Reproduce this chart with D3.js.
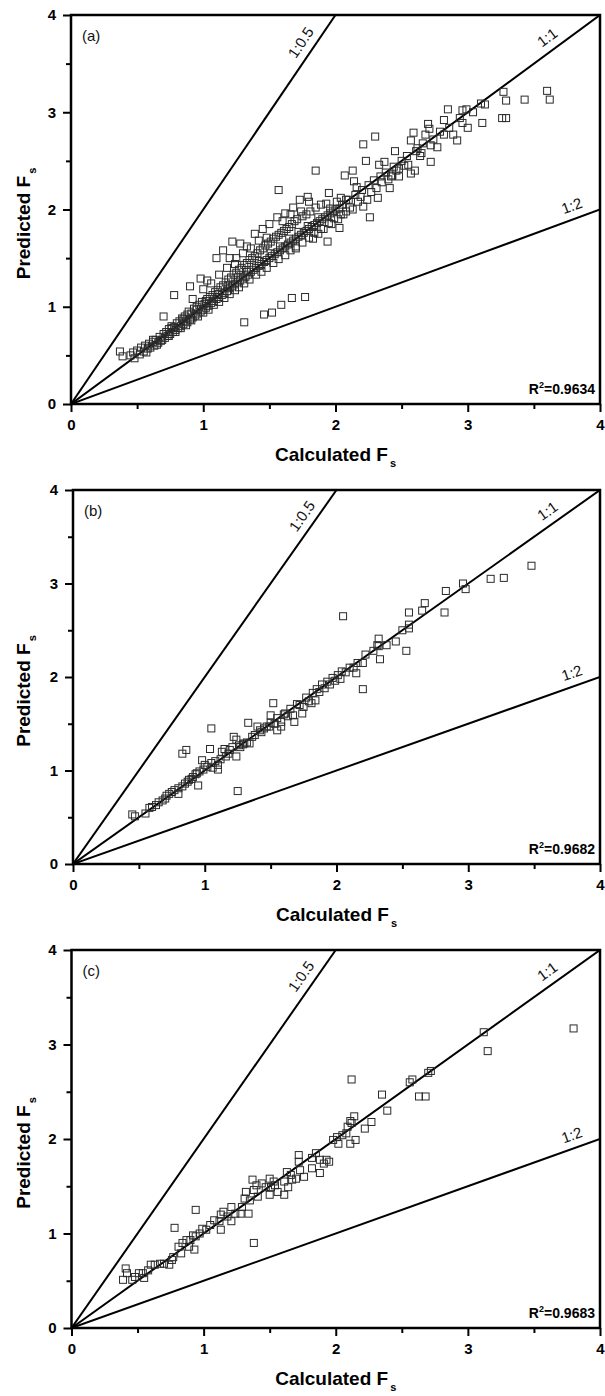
<!DOCTYPE html>
<html>
<head>
<meta charset="utf-8">
<script src="https://cdn.jsdelivr.net/npm/d3@7"></script>
<style>
  body { margin: 0; background: #fff; }
  svg { display: block; font-family: Arial, "Liberation Sans", sans-serif; }
</style>
</head>
<body>
<svg id="chart" width="605" height="1396"></svg>
<script>
// [calculated, predicted] pairs
const pointsA = [
  [0.37,0.54],[0.39,0.49],[0.45,0.50],[0.47,0.53],[0.48,0.47],[0.50,0.55],[0.52,0.51],[0.53,0.58],[0.55,0.54],[0.56,0.60],
  [0.57,0.53],[0.58,0.57],[0.59,0.62],[0.60,0.58],[0.62,0.64],[0.62,0.66],[0.63,0.60],[0.64,0.66],[0.65,0.61],[0.66,0.63],
  [0.67,0.69],[0.68,0.65],[0.69,0.66],[0.70,0.72],[0.70,0.90],[0.71,0.68],[0.72,0.74],[0.73,0.70],[0.74,0.77],[0.74,0.70],
  [0.75,0.72],[0.76,0.80],[0.76,0.78],[0.77,0.74],[0.78,1.12],[0.78,0.79],[0.79,0.76],[0.79,0.74],[0.80,0.83],[0.81,0.78],
  [0.82,0.85],[0.83,0.80],[0.83,0.78],[0.84,0.88],[0.85,0.82],[0.85,0.87],[0.86,0.90],[0.87,0.85],[0.87,0.81],[0.88,0.92],
  [0.88,0.84],[0.89,0.95],[0.90,1.21],[0.90,0.87],[0.91,0.93],[0.91,0.86],[0.92,0.89],[0.92,1.08],[0.93,0.98],[0.94,0.91],
  [0.95,1.00],[0.95,0.97],[0.96,0.93],[0.96,0.90],[0.97,1.02],[0.98,1.29],[0.98,0.95],[0.99,1.05],[1.00,0.97],[1.00,0.94],
  [1.00,1.18],[1.01,1.03],[1.02,0.99],[1.02,1.06],[1.03,1.27],[1.03,1.08],[1.04,1.01],[1.04,0.97],[1.05,1.10],[1.06,1.04],
  [1.06,1.24],[1.07,1.12],[1.08,1.06],[1.08,1.02],[1.09,1.15],[1.10,1.50],[1.10,1.08],[1.11,1.17],[1.11,1.13],[1.12,1.10],
  [1.12,1.05],[1.12,1.33],[1.13,1.20],[1.14,1.12],[1.15,1.58],[1.15,1.22],[1.16,1.14],[1.16,1.09],[1.17,1.25],[1.18,1.16],
  [1.18,1.40],[1.19,1.28],[1.19,1.22],[1.20,1.50],[1.20,1.19],[1.20,1.13],[1.21,1.30],[1.22,1.67],[1.22,1.21],[1.23,1.33],
  [1.24,1.23],[1.24,1.17],[1.24,1.44],[1.25,1.50],[1.25,1.35],[1.26,1.25],[1.26,1.30],[1.27,1.38],[1.27,1.20],[1.28,1.65],
  [1.28,1.27],[1.29,1.40],[1.30,1.29],[1.30,1.55],[1.31,0.84],[1.31,1.43],[1.31,1.24],[1.32,1.31],[1.33,1.45],[1.33,1.36],
  [1.33,1.62],[1.34,1.33],[1.35,1.48],[1.35,1.28],[1.36,1.36],[1.36,1.60],[1.37,1.50],[1.38,1.38],[1.39,1.75],[1.39,1.52],
  [1.40,1.40],[1.40,1.33],[1.41,1.55],[1.42,1.42],[1.42,1.47],[1.42,1.68],[1.43,1.58],[1.44,1.44],[1.44,1.36],[1.45,1.60],
  [1.45,1.80],[1.46,0.92],[1.46,1.46],[1.47,1.63],[1.48,1.71],[1.48,1.48],[1.48,1.40],[1.49,1.65],[1.50,1.50],[1.50,1.85],
  [1.51,1.67],[1.51,1.55],[1.52,0.94],[1.52,1.52],[1.53,1.70],[1.53,1.45],[1.54,1.54],[1.55,1.72],[1.56,1.56],[1.56,1.92],
  [1.57,1.74],[1.57,1.49],[1.57,2.20],[1.58,1.58],[1.58,1.62],[1.59,1.02],[1.59,1.76],[1.60,1.60],[1.60,1.88],[1.61,1.78],
  [1.62,1.62],[1.62,1.53],[1.62,1.96],[1.63,1.80],[1.64,1.64],[1.65,1.82],[1.65,1.70],[1.66,1.66],[1.66,1.58],[1.66,1.95],
  [1.67,1.09],[1.67,1.85],[1.68,1.68],[1.68,2.02],[1.69,1.88],[1.70,1.70],[1.70,1.62],[1.70,1.60],[1.71,1.90],[1.72,1.72],
  [1.72,1.77],[1.73,2.10],[1.74,1.74],[1.74,1.98],[1.75,1.93],[1.75,1.66],[1.76,1.76],[1.77,1.10],[1.78,1.95],[1.78,1.78],
  [1.79,2.13],[1.79,1.83],[1.80,1.80],[1.80,1.71],[1.80,2.08],[1.81,1.98],[1.82,1.82],[1.83,1.70],[1.84,1.84],[1.84,1.76],
  [1.85,2.40],[1.85,2.02],[1.86,1.86],[1.87,1.75],[1.87,1.92],[1.88,1.88],[1.89,2.05],[1.89,1.80],[1.90,1.90],[1.91,1.80],
  [1.92,1.92],[1.93,2.06],[1.94,1.67],[1.94,1.94],[1.95,2.17],[1.95,1.86],[1.96,1.96],[1.96,2.01],[1.97,1.85],[1.98,1.98],
  [1.99,1.91],[2.00,2.00],[2.01,2.08],[2.02,1.90],[2.03,1.81],[2.03,2.01],[2.04,2.12],[2.04,1.95],[2.05,2.05],[2.06,1.95],
  [2.07,2.35],[2.08,1.98],[2.08,2.10],[2.10,2.10],[2.11,2.02],[2.13,2.00],[2.13,2.40],[2.14,2.29],[2.15,2.15],[2.16,2.23],
  [2.17,2.08],[2.19,2.13],[2.20,2.20],[2.21,2.03],[2.21,2.67],[2.23,2.50],[2.24,2.10],[2.25,2.25],[2.26,1.92],[2.27,2.18],
  [2.29,2.30],[2.30,2.75],[2.31,2.22],[2.32,2.12],[2.33,2.46],[2.34,2.34],[2.35,2.28],[2.37,2.49],[2.38,2.38],[2.40,2.31],
  [2.41,2.22],[2.42,2.34],[2.43,2.35],[2.44,2.44],[2.45,2.60],[2.46,2.40],[2.48,2.42],[2.48,2.34],[2.50,2.50],[2.52,2.45],
  [2.54,2.55],[2.55,2.46],[2.57,2.37],[2.57,2.71],[2.59,2.79],[2.60,2.40],[2.61,2.60],[2.62,2.63],[2.64,2.55],[2.65,2.58],
  [2.66,2.68],[2.68,2.77],[2.70,2.88],[2.71,2.83],[2.72,2.66],[2.72,2.49],[2.74,2.72],[2.77,2.64],[2.79,2.80],[2.82,2.92],
  [2.82,2.77],[2.85,3.03],[2.86,2.84],[2.89,2.77],[2.92,2.71],[2.94,2.94],[2.96,3.02],[2.96,2.89],[2.99,3.03],[3.00,2.84],
  [3.04,3.00],[3.10,3.09],[3.11,2.89],[3.13,3.08],[3.26,2.94],[3.27,3.21],[3.29,3.12],[3.29,2.94],[3.43,3.13],[3.60,3.22],
  [3.62,3.13]
];

const pointsB = [
  [0.45,0.53],[0.47,0.51],[0.55,0.54],[0.58,0.60],[0.60,0.61],[0.63,0.63],[0.65,0.66],[0.68,0.68],[0.70,0.70],[0.71,0.73],
  [0.73,0.75],[0.75,0.77],[0.77,0.79],[0.80,0.75],[0.80,0.81],[0.83,1.18],[0.83,0.83],[0.85,0.86],[0.86,1.22],[0.87,0.88],
  [0.88,0.90],[0.90,0.91],[0.91,0.93],[0.93,0.96],[0.94,0.97],[0.95,0.84],[0.96,0.99],[0.98,1.11],[0.99,1.01],[1.00,1.06],
  [1.02,1.04],[1.04,1.23],[1.05,1.45],[1.05,1.08],[1.06,1.03],[1.08,1.10],[1.10,1.01],[1.10,1.06],[1.12,1.12],[1.13,1.20],
  [1.15,1.23],[1.16,1.15],[1.18,1.18],[1.19,1.22],[1.21,1.25],[1.22,1.36],[1.24,1.33],[1.24,1.15],[1.25,0.78],[1.26,1.27],
  [1.27,1.25],[1.29,1.28],[1.30,1.29],[1.32,1.30],[1.33,1.51],[1.34,1.29],[1.36,1.36],[1.38,1.38],[1.40,1.47],[1.42,1.43],
  [1.43,1.41],[1.45,1.45],[1.47,1.47],[1.49,1.47],[1.50,1.59],[1.50,1.51],[1.52,1.72],[1.53,1.50],[1.55,1.43],[1.55,1.56],
  [1.58,1.47],[1.58,1.52],[1.60,1.60],[1.61,1.61],[1.63,1.58],[1.65,1.66],[1.67,1.59],[1.68,1.52],[1.70,1.71],[1.72,1.70],
  [1.74,1.61],[1.75,1.68],[1.77,1.78],[1.79,1.74],[1.81,1.72],[1.82,1.83],[1.84,1.75],[1.85,1.87],[1.87,1.84],[1.89,1.92],
  [1.91,1.88],[1.93,1.95],[1.95,1.92],[1.97,1.99],[1.99,1.96],[2.01,2.02],[2.03,1.98],[2.04,2.06],[2.05,2.65],[2.07,2.05],
  [2.10,2.10],[2.13,2.10],[2.15,2.04],[2.16,2.15],[2.20,1.87],[2.20,2.15],[2.22,2.24],[2.28,2.28],[2.31,2.34],[2.32,2.41],
  [2.32,2.33],[2.33,2.19],[2.38,2.34],[2.45,2.38],[2.50,2.50],[2.53,2.28],[2.55,2.56],[2.55,2.52],[2.55,2.69],[2.65,2.71],
  [2.67,2.79],[2.82,2.69],[2.83,2.92],[2.96,3.00],[2.98,2.94],[3.17,3.05],[3.27,3.06],[3.48,3.19]
];

const pointsC = [
  [0.39,0.51],[0.41,0.63],[0.42,0.58],[0.46,0.51],[0.48,0.54],[0.51,0.58],[0.54,0.58],[0.55,0.53],[0.58,0.61],[0.60,0.67],
  [0.63,0.67],[0.67,0.68],[0.70,0.68],[0.74,0.67],[0.76,0.72],[0.77,0.75],[0.78,1.06],[0.81,0.86],[0.83,0.79],[0.84,0.90],
  [0.87,0.93],[0.89,0.86],[0.90,0.93],[0.92,0.98],[0.93,0.83],[0.94,0.97],[0.94,1.25],[0.97,1.00],[0.99,1.05],[1.02,1.04],
  [1.05,1.09],[1.08,1.14],[1.12,1.13],[1.13,1.20],[1.13,1.04],[1.15,1.23],[1.18,1.18],[1.21,1.28],[1.21,1.13],[1.24,1.21],
  [1.28,1.21],[1.29,1.28],[1.31,1.37],[1.32,1.44],[1.34,1.21],[1.35,1.35],[1.37,1.57],[1.38,1.46],[1.38,0.90],[1.40,1.51],
  [1.41,1.39],[1.44,1.53],[1.47,1.49],[1.50,1.58],[1.50,1.41],[1.51,1.49],[1.53,1.55],[1.54,1.51],[1.56,1.44],[1.61,1.55],
  [1.61,1.41],[1.63,1.65],[1.64,1.49],[1.66,1.62],[1.67,1.57],[1.70,1.58],[1.72,1.83],[1.72,1.76],[1.73,1.67],[1.76,1.60],
  [1.82,1.80],[1.82,1.69],[1.85,1.85],[1.88,1.78],[1.88,1.64],[1.91,1.74],[1.93,1.78],[1.95,1.76],[1.98,1.99],[2.01,2.02],
  [2.02,1.95],[2.05,2.04],[2.08,2.06],[2.09,2.13],[2.11,2.19],[2.11,1.95],[2.12,2.17],[2.12,2.63],[2.14,2.24],[2.15,1.99],
  [2.22,2.11],[2.27,2.18],[2.35,2.47],[2.39,2.30],[2.56,2.60],[2.58,2.63],[2.63,2.45],[2.68,2.45],[2.70,2.70],[2.72,2.72],
  [3.12,3.13],[3.15,2.93],[3.80,3.17]
];

const panelLabels = ["(a)", "(b)", "(c)"];
const r2Values = ["0.9634", "0.9682", "0.9683"];
const axisDomain = [0, 4];
const majorTicks = [0, 1, 2, 3, 4];
const minorTicks = [0.5, 1.5, 2.5, 3.5];
// ratio label and slope (predicted / calculated)
const refLabels = ["1:0.5", "1:1", "1:2"];
const refSlopes = [2, 1, 0.5];

// plot boxes for the three panels
const boxes = [
  { l: 71, r: 600, t: 15, b: 404 },
  { l: 73, r: 600, t: 490, b: 864 },
  { l: 71.5, r: 600, t: 950, b: 1328 }
];
const labelAt = { "1:0.5": 0.91, "1:1": 0.915, "1:2": 0.955 };

const svg = d3.select("#chart");
const allPoints = [pointsA, pointsB, pointsC];

allPoints.forEach((pts, i) => drawPanel(pts, i));

function drawPanel(pts, i) {
  const box = boxes[i];
  const g = svg.append("g");
  const x = d3.scaleLinear().domain(axisDomain).range([box.l, box.r]);
  const y = d3.scaleLinear().domain(axisDomain).range([box.b, box.t]);

  const clipId = "clip" + i;
  g.append("clipPath").attr("id", clipId)
    .append("rect").attr("x", box.l).attr("y", box.t)
    .attr("width", box.r - box.l).attr("height", box.b - box.t);

  // reference lines
  const lines = g.append("g").attr("clip-path", `url(#${clipId})`);
  refSlopes.forEach((s, k) => {
    const end = s >= 1 ? [axisDomain[1] / s, axisDomain[1]] : [axisDomain[1], axisDomain[1] * s];
    lines.append("line")
      .attr("x1", x(0)).attr("y1", y(0))
      .attr("x2", x(end[0])).attr("y2", y(end[1]))
      .attr("stroke", "#000").attr("stroke-width", 2);

    const t = labelAt[refLabels[k]];
    const px = x(0) + t * (x(end[0]) - x(0));
    const py = y(0) + t * (y(end[1]) - y(0));
    const ang = Math.atan2(y(end[1]) - y(0), x(end[0]) - x(0)) * 180 / Math.PI;
    g.append("text")
      .attr("transform", `translate(${px},${py}) rotate(${ang})`)
      .attr("dy", -8)
      .attr("text-anchor", "middle")
      .attr("font-size", 15)
      .attr("fill", "#111")
      .text(refLabels[k]);
  });

  // points
  g.append("g").selectAll("rect").data(pts).join("rect")
    .attr("x", d => x(d[0]) - 3.5)
    .attr("y", d => y(d[1]) - 3.5)
    .attr("width", 7).attr("height", 7)
    .attr("fill", "none")
    .attr("stroke", "#2a2a2a")
    .attr("stroke-width", 1);

  // axes
  const styleAxis = sel => {
    sel.select(".domain").remove();
    sel.selectAll(".tick line").attr("stroke", "#000").attr("stroke-width", 2);
    sel.selectAll(".tick text")
      .attr("font-family", "Arial, 'Liberation Sans', sans-serif")
      .attr("font-size", 15).attr("font-weight", "bold").attr("fill", "#000");
  };
  g.append("g").attr("transform", `translate(${box.l},0)`)
    .call(d3.axisLeft(y).tickValues(majorTicks).tickSize(8).tickPadding(7).tickFormat(d3.format("d")))
    .call(styleAxis);
  g.append("g").attr("transform", `translate(${box.l},0)`)
    .call(d3.axisLeft(y).tickValues(minorTicks).tickSize(5).tickFormat(""))
    .call(styleAxis);
  g.append("g").attr("transform", `translate(0,${box.b})`)
    .call(d3.axisBottom(x).tickValues(majorTicks).tickSize(8).tickPadding(7).tickFormat(d3.format("d")))
    .call(styleAxis);
  g.append("g").attr("transform", `translate(0,${box.b})`)
    .call(d3.axisBottom(x).tickValues(minorTicks).tickSize(5).tickFormat(""))
    .call(styleAxis);

  // frame
  g.append("rect")
    .attr("x", box.l).attr("y", box.t)
    .attr("width", box.r - box.l).attr("height", box.b - box.t)
    .attr("fill", "none").attr("stroke", "#000").attr("stroke-width", 2.5);

  // panel label
  g.append("text")
    .attr("x", box.l + 11).attr("y", box.t + 26)
    .attr("font-size", 15).attr("fill", "#111")
    .text(panelLabels[i]);

  // R squared
  const r2 = g.append("text")
    .attr("x", box.r - 5).attr("y", box.b - 10)
    .attr("text-anchor", "end")
    .attr("font-size", 14).attr("font-weight", "bold");
  r2.append("tspan").text("R");
  r2.append("tspan").attr("font-size", 9).attr("dy", -6).text("2");
  r2.append("tspan").attr("dy", 6).text("=" + r2Values[i]);

  // axis titles
  const xt = g.append("text")
    .attr("x", (box.l + box.r) / 2).attr("y", box.b + 57)
    .attr("text-anchor", "middle")
    .attr("font-size", 19).attr("font-weight", "bold");
  xt.append("tspan").text("Calculated F");
  xt.append("tspan").attr("font-size", 11).attr("dx", 2).attr("dy", 6).text("s");

  const yt = g.append("text")
    .attr("transform", `translate(30,${(box.t + box.b) / 2 + 14}) rotate(-90)`)
    .attr("text-anchor", "middle")
    .attr("font-size", 19).attr("font-weight", "bold");
  yt.append("tspan").text("Predicted F");
  yt.append("tspan").attr("font-size", 11).attr("dx", 2).attr("dy", 6).text("s");
}
</script>
</body>
</html>
